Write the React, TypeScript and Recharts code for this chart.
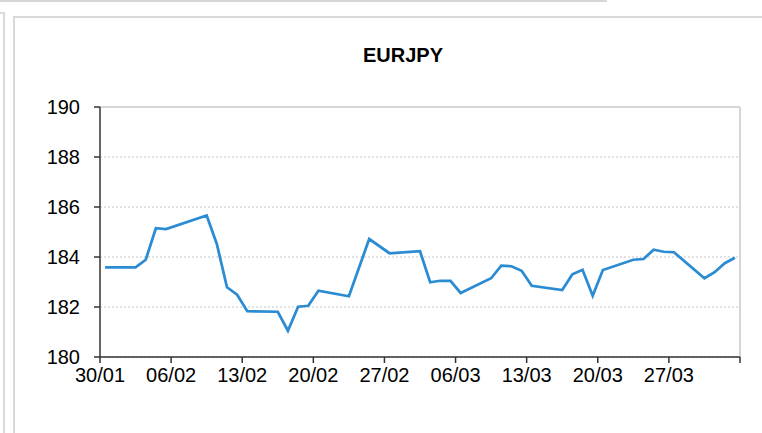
import React from 'react';
import { LineChart, Line, XAxis, YAxis, CartesianGrid, ReferenceLine } from 'recharts';

const YEAR = 2026;
const START = '30/01';

const dates = [
  '30/01', '02/02', '03/02', '04/02', '05/02', '09/02', '10/02', '11/02', '12/02', '13/02',
  '16/02', '17/02', '18/02', '19/02', '20/02', '23/02', '25/02', '27/02', '02/03', '03/03',
  '04/03', '05/03', '06/03', '09/03', '10/03', '11/03', '12/03', '13/03', '16/03', '17/03',
  '18/03', '19/03', '20/03', '23/03', '24/03', '25/03', '26/03', '27/03', '30/03', '31/03',
  '01/04', '02/04',
];

const eurjpy = [
  183.59, 183.59, 183.89, 185.15, 185.12, 185.66, 184.52, 182.79, 182.49, 181.83,
  181.81, 181.05, 182.01, 182.05, 182.65, 182.43, 184.72, 184.15, 184.23, 182.99,
  183.05, 183.05, 182.56, 183.15, 183.65, 183.63, 183.45, 182.85, 182.68, 183.31,
  183.49, 182.45, 183.48, 183.89, 183.92, 184.29, 184.21, 184.19, 183.15, 183.39,
  183.75, 183.97,
];

const xTickLabels = ['30/01', '06/02', '13/02', '20/02', '27/02', '06/03', '13/03', '20/03', '27/03', ''];
const yTicks = [180, 182, 184, 186, 188, 190];

const toDay = (s: string) => {
  const [d, m] = s.split('/').map(Number);
  return Date.UTC(YEAR, m - 1, d) / 86400000;
};
const day0 = toDay(START);

const data = dates.map((d, i) => ({ date: d, x: toDay(d) - day0 + 0.5, value: eurjpy[i] }));
const xTicks = xTickLabels.map((_, i) => i * 7);
const xMax = xTicks[xTicks.length - 1];

const FONT = '"Liberation Sans", Arial, sans-serif';

export default function App() {
  return (
    <div style={{ position: 'fixed', left: 0, top: 0, width: 762, height: 433, background: '#fff', overflow: 'hidden', fontFamily: FONT }}>
      <div style={{ position: 'absolute', left: 0, top: 0, width: 607, height: 2, background: '#d6d6d6' }} />
      <div style={{ position: 'absolute', left: 0, top: 12, width: 5, height: 2, background: '#dadada' }} />
      <div style={{ position: 'absolute', left: 3, top: 12, width: 2, height: 421, background: '#dadada' }} />
      <div style={{ position: 'absolute', left: 13, top: 16, width: 760, height: 430, borderLeft: '2px solid #d8d8d8', borderTop: '2px solid #d8d8d8', boxSizing: 'border-box' }} />
      <div style={{ position: 'absolute', left: 0, width: 806, top: 45, textAlign: 'center', fontSize: 20, lineHeight: '20px', fontWeight: 'bold', color: '#000' }}>EURJPY</div>
      <div style={{ position: 'absolute', left: 0, top: 0 }}>
        <LineChart width={762} height={433} data={data} margin={{ top: 107, right: 22, bottom: 36, left: 0 }}>
          <CartesianGrid horizontal={true} vertical={false} stroke="#c4c4c4" strokeDasharray="2 2" />
          <ReferenceLine y={190} stroke="#d6d6d6" strokeWidth={2} ifOverflow="extendDomain" />
          <ReferenceLine x={xMax} stroke="#d6d6d6" strokeWidth={2} />
          <XAxis
            dataKey="x"
            type="number"
            domain={[0, xMax]}
            ticks={xTicks}
            tickFormatter={(v: number) => xTickLabels[Math.round(v / 7)] ?? ''}
            interval={0}
            height={40}
            tickSize={6}
            tickMargin={5}
            stroke="#333"
            strokeWidth={1.5}
            tick={{ fill: '#000', fontSize: 20, fontFamily: FONT }}
            allowDataOverflow
          />
          <YAxis
            type="number"
            domain={[180, 190]}
            ticks={yTicks}
            interval={0}
            width={100}
            tickSize={6}
            tickMargin={14}
            stroke="#333"
            strokeWidth={1.5}
            tick={{ fill: '#000', fontSize: 20, fontFamily: FONT }}
            allowDataOverflow
          />
          <Line
            type="linear"
            dataKey="value"
            stroke="#2b8bd3"
            strokeWidth={2.75}
            dot={false}
            activeDot={false}
            isAnimationActive={false}
          />
        </LineChart>
      </div>
    </div>
  );
}
